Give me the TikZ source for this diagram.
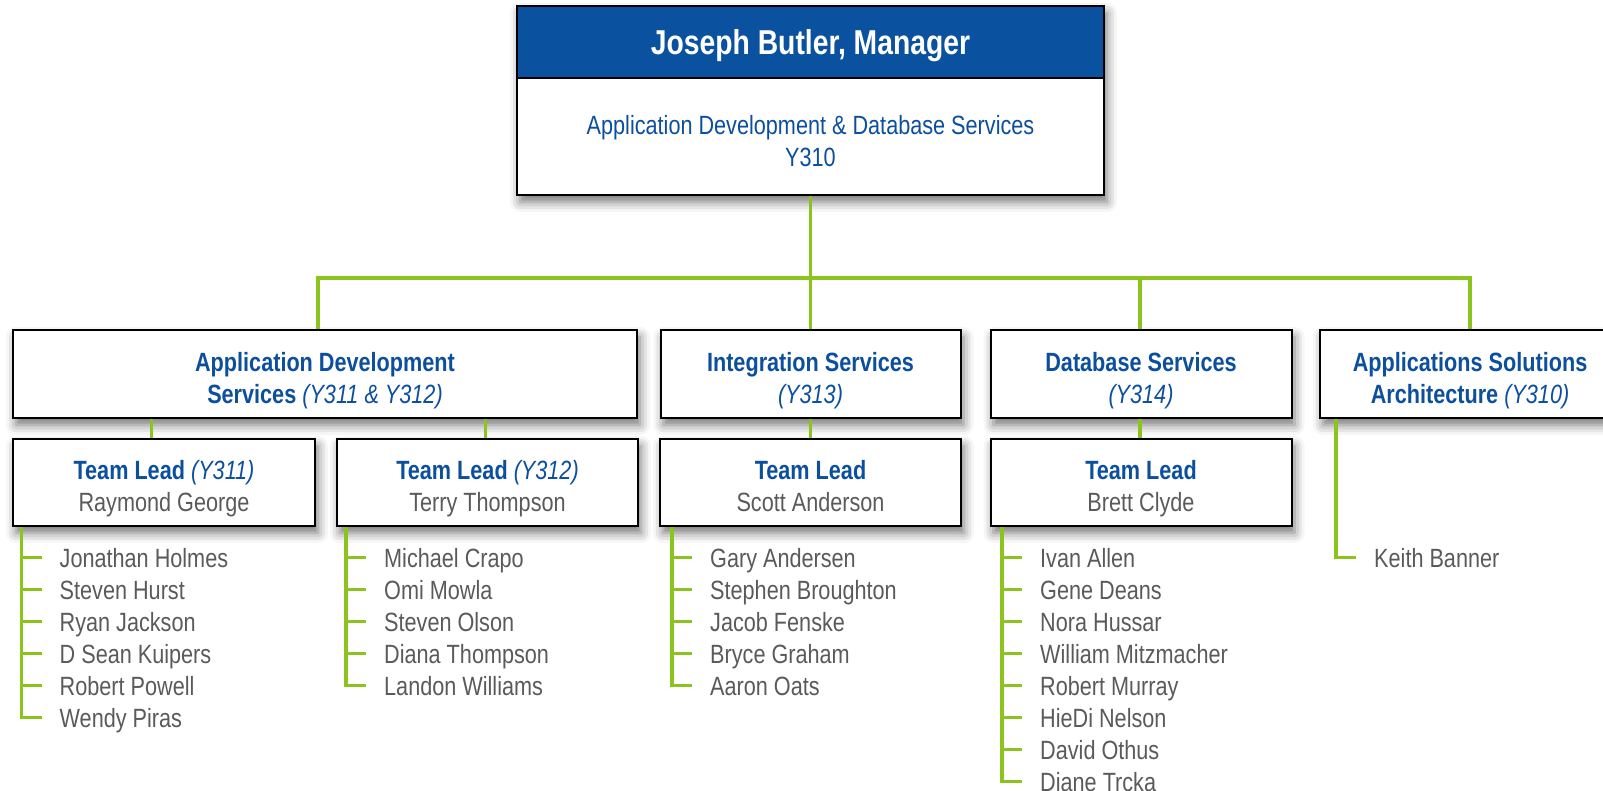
\documentclass[tikz,border=0pt]{standalone}
\usepackage{fontspec}
\setmainfont{Liberation Sans}[FakeStretch=0.82]
\usetikzlibrary{shadows.blur}
\definecolor{hdrblue}{RGB}{10,81,160}
\definecolor{txtblue}{RGB}{12,79,158}
\definecolor{txtgray}{RGB}{90,90,90}
\definecolor{linegreen}{RGB}{140,196,30}
\newcommand{\orgB}[1]{{\bfseries\color{txtblue}#1}}
\newcommand{\orgI}[1]{{\itshape\color{txtblue}#1}}
\newcommand{\orgG}[1]{{\color{txtgray}#1}}
\tikzset{
  box/.style={draw=black, line width=2pt, fill=white, inner sep=0pt, align=center,
    minimum height=88pt, font=\fontsize{26.4}{32}\selectfont,
    text height=58pt, text depth=0pt,
    blur shadow={shadow xshift=3pt, shadow yshift=-7pt, shadow blur radius=10pt, shadow opacity=55}},
  conn/.style={draw=linegreen, line width=3.5pt},
  member/.style={anchor=base west, inner sep=0pt, text=txtgray, font=\fontsize{26.4}{32}\selectfont},
}
\begin{document}
\begin{tikzpicture}[x=1pt,y=-1pt]
\clip (0,0) rectangle (1603,791);
% manager
\node[box, minimum width=587pt, minimum height=189pt, text height=0pt, text depth=0pt] (mgr) at (810.5,100.5) {};
\node[draw=black, line width=2pt, fill=hdrblue, minimum width=587pt, minimum height=72pt,
      inner sep=0pt, text=white, text height=25.4pt, text depth=0pt,
      font=\fontsize{34.5}{40}\selectfont\bfseries] (mgrhead) at (810.5,42) {Joseph Butler, Manager};
\node[align=center, text=txtblue, font=\fontsize{26.4}{31.7}\selectfont, inner sep=0pt] (mgrsub) at (810.5,141)
  {Application Development \& Database Services\\Y310};
% level 2
\node[box, minimum width=624pt] (ads) at (325,374) {\orgB{Application Development}\\\orgB{Services} \orgI{(Y311 \& Y312)}};
\node[box, minimum width=300pt] (ins) at (810.5,374) {\orgB{Integration Services}\\\orgI{(Y313)}};
\node[box, minimum width=301pt] (dbs) at (1141,374) {\orgB{Database Services}\\\orgI{(Y314)}};
\node[box, minimum width=300pt] (asa) at (1470,374) {\orgB{Applications Solutions}\\\orgB{Architecture} \orgI{(Y310)}};
% level 3
\node[box, minimum width=302pt, minimum height=87pt] (tl1) at (164,482.5) {\orgB{Team Lead} \orgI{(Y311)}\\\orgG{Raymond George}};
\node[box, minimum width=301pt, minimum height=87pt] (tl2) at (487.5,482.5) {\orgB{Team Lead} \orgI{(Y312)}\\\orgG{Terry Thompson}};
\node[box, minimum width=301pt, minimum height=87pt] (tl3) at (810.5,482.5) {\orgB{Team Lead}\\\orgG{Scott Anderson}};
\node[box, minimum width=301pt, minimum height=87pt] (tl4) at (1141,482.5) {\orgB{Team Lead}\\\orgG{Brett Clyde}};
% connectors
\coordinate (b1) at (318,278);
\coordinate (b2) at (810.5,278);
\coordinate (b3) at (1140,278);
\coordinate (b4) at (1470,278);
\draw[conn] (mgr.south) -- (b2);
\draw[conn] (b1 |- ads.north) -- (b1) -- (b4) -- (b4 |- asa.north);
\draw[conn] (b2) -- (ins.north);
\draw[conn] (b3) -- (b3 |- dbs.north);
\coordinate (d1) at (151.5,428);
\coordinate (d2) at (485.3,428);
\draw[conn] (d1 |- ads.south) -- (d1 |- tl1.north);
\draw[conn] (d2 |- ads.south) -- (d2 |- tl2.north);
\draw[conn] (ins.south) -- (tl3.north);
\draw[conn] (b3 |- dbs.south) -- (b3 |- tl4.north);
% member lists
\foreach \lx/\tl/\n/\names in {
  21.5/tl1/5/{Jonathan Holmes,Steven Hurst,Ryan Jackson,D Sean Kuipers,Robert Powell,Wendy Piras},
  346/tl2/4/{Michael Crapo,Omi Mowla,Steven Olson,Diana Thompson,Landon Williams},
  672/tl3/4/{Gary Andersen,Stephen Broughton,Jacob Fenske,Bryce Graham,Aaron Oats},
  1002/tl4/7/{Ivan Allen,Gene Deans,Nora Hussar,William Mitzmacher,Robert Murray,HieDi Nelson,David Othus,Diane Trcka},
  1336/asa/0/{Keith Banner}}{
  \coordinate (\tl-v) at (\lx,0);
  \foreach \nm [count=\i from 0] in \names {
    \node[member] (\tl-m\i) at (\lx+38, 567.2+32*\i) {\nm};
    \coordinate (\tl-t\i) at ([xshift=-18pt,yshift=9.5pt]\tl-m\i.base west);
    \draw[conn] (\tl-v |- \tl-t\i) -- (\tl-t\i);
  }
  \draw[conn] (\tl-v |- \tl.south) |- (\tl-t\n);
}
\end{tikzpicture}
\end{document}
